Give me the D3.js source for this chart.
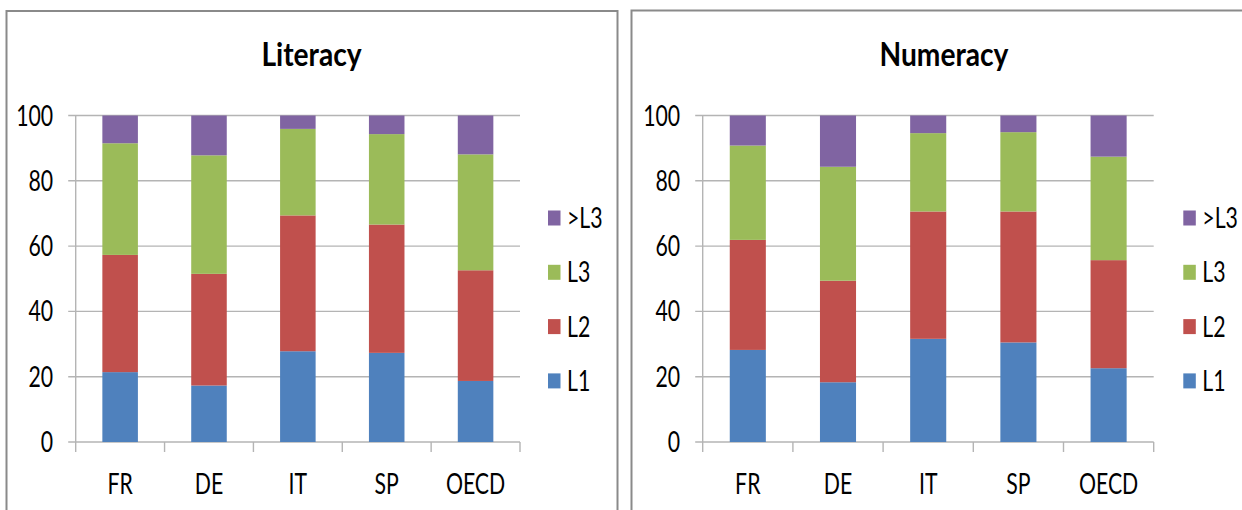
<!DOCTYPE html>
<html>
<head>
<meta charset="utf-8">
<script src="https://cdn.jsdelivr.net/npm/d3@7"></script>
<style>
  html, body { margin: 0; padding: 0; background: #fff; }
  svg { display: block; }
</style>
</head>
<body>
<svg id="chart" width="1242" height="510"></svg>
<script>
// Categories and level keys (bottom to top of each stack)
const countries = ["FR", "DE", "IT", "SP", "OECD"];
const levels = ["L1", "L2", "L3", ">L3"];
const yTicks = [0, 20, 40, 60, 80, 100];

// Share of adults at each proficiency level (%), per country
const literacyL1   = [21.4, 17.3, 27.8, 27.3, 18.7];
const literacyL2   = [35.9, 34.2, 41.6, 39.3, 33.9];
const literacyL3   = [34.2, 36.3, 26.5, 27.7, 35.5];
const literacyGtL3 = [8.5, 12.2, 4.1, 5.7, 11.9];

const numeracyL1   = [28.2, 18.3, 31.6, 30.5, 22.6];
const numeracyL2   = [33.7, 31.1, 39.0, 40.1, 33.1];
const numeracyL3   = [28.9, 34.9, 24.0, 24.3, 31.7];
const numeracyGtL3 = [9.2, 15.7, 5.4, 5.1, 12.6];

const colors = ["#4F81BD", "#C0504D", "#9BBB59", "#8064A2"];

function rows(a, b, c, d) {
  return countries.map((k, i) => ({ country: k, "L1": a[i], "L2": b[i], "L3": c[i], ">L3": d[i] }));
}

const panels = [
  { title: "Literacy", data: rows(literacyL1, literacyL2, literacyL3, literacyGtL3),
    box: [6.5, 11, 611, 520], plot: [75.7, 520], titleX: 311.5, legendX: 548 },
  { title: "Numeracy", data: rows(numeracyL1, numeracyL2, numeracyL3, numeracyGtL3),
    box: [631.5, 10.5, 620, 520], plot: [702.7, 1153.7], titleX: 944, legendX: 1183.3 }
];

const FONT = "Lato, 'Open Sans', sans-serif";
const svg = d3.select("#chart");
const yScale = d3.scaleLinear().domain([0, 100]).range([442, 115.5]);
const color = d3.scaleOrdinal().domain(levels).range(colors);
const stack = d3.stack().keys(levels);

// Condensed text: the label is drawn at (x, y) and squeezed horizontally
function label(g, x, y, text, opts) {
  const o = Object.assign({ size: 28, sx: 0.76, anchor: "start", weight: "normal" }, opts);
  g.append("g")
    .attr("transform", `translate(${x},${y}) scale(${o.sx},1)`)
    .append("text")
    .attr("text-anchor", o.anchor)
    .attr("font-family", FONT)
    .attr("font-size", o.size)
    .attr("font-weight", o.weight)
    .attr("fill", "#000")
    .text(text);
}

panels.forEach(p => {
  const g = svg.append("g");

  // Chart frame
  g.append("rect")
    .attr("x", p.box[0]).attr("y", p.box[1])
    .attr("width", p.box[2]).attr("height", p.box[3])
    .attr("fill", "#fff").attr("stroke", "#8a8a8a").attr("stroke-width", 2);

  const x = d3.scaleBand().domain(countries).range(p.plot)
    .paddingInner(0.6).paddingOuter(0.3);
  const slot = d3.scaleBand().domain(countries).range(p.plot);

  // Horizontal gridlines (extending left as tick marks)
  g.append("g").selectAll("line").data(yTicks).join("line")
    .attr("x1", p.plot[0] - 7.5).attr("x2", p.plot[1])
    .attr("y1", d => yScale(d)).attr("y2", d => yScale(d))
    .attr("stroke", "#b4b4b4").attr("stroke-width", 1.4);

  // Value axis line
  g.append("line")
    .attr("x1", p.plot[0]).attr("x2", p.plot[0])
    .attr("y1", yScale(100)).attr("y2", yScale(0))
    .attr("stroke", "#b4b4b4").attr("stroke-width", 1.4);

  // Category separators below the baseline
  const seps = countries.map(c => slot(c)).concat([p.plot[1]]);
  g.append("g").selectAll("line").data(seps).join("line")
    .attr("x1", d => d).attr("x2", d => d)
    .attr("y1", yScale(0)).attr("y2", yScale(0) + 10)
    .attr("stroke", "#b4b4b4").attr("stroke-width", 1.4);

  // Stacked bars
  const series = stack(p.data);
  g.append("g").selectAll("g").data(series).join("g")
    .attr("fill", d => color(d.key))
    .selectAll("rect").data(d => d).join("rect")
    .attr("x", d => x(d.data.country))
    .attr("width", x.bandwidth())
    .attr("y", d => yScale(d[1]))
    .attr("height", d => yScale(d[0]) - yScale(d[1]));

  // Y tick labels
  yTicks.forEach(t => label(g, p.plot[0] - 22.5, yScale(t) + 10, String(t), { anchor: "end" }));

  // Category labels
  countries.forEach(c => label(g, x(c) + x.bandwidth() / 2, 494, c, { anchor: "middle" }));

  // Title
  label(g, p.titleX, 66, p.title, { size: 32, sx: 0.88, weight: "bold", anchor: "middle" });

  // Legend (top entry is the top of the stack)
  const legendItems = levels.slice().reverse();
  legendItems.forEach((k, i) => {
    const cy = 218 + i * 54.3;
    g.append("rect")
      .attr("x", p.legendX).attr("y", cy - 7.5)
      .attr("width", 12.5).attr("height", 15)
      .attr("fill", color(k));
    label(g, p.legendX + 19, cy + 10, k, {});
  });
});
</script>
</body>
</html>
